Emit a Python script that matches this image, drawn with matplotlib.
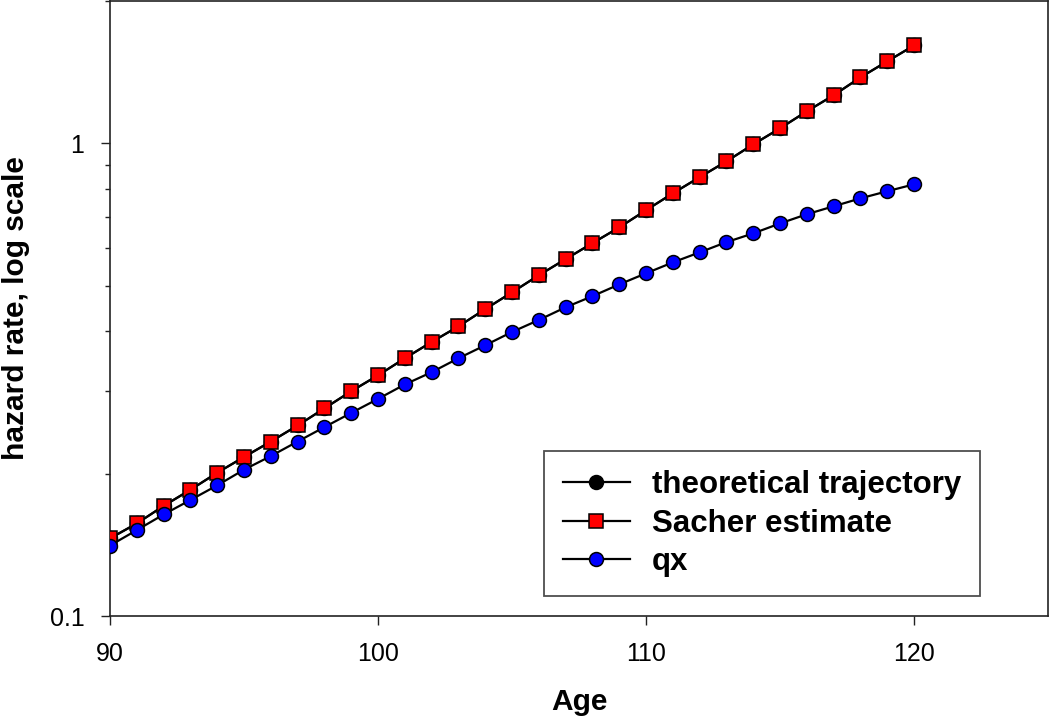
import numpy as np
import matplotlib
matplotlib.use("Agg")
import matplotlib.pyplot as plt
from matplotlib.ticker import LogLocator, FixedLocator, NullFormatter, FixedFormatter

plt.rcParams['font.family'] = ['Liberation Sans', 'DejaVu Sans']

# ages 90..120
age = [90, 91, 92, 93, 94, 95, 96, 97, 98, 99, 100, 101, 102, 103, 104, 105,
       106, 107, 108, 109, 110, 111, 112, 113, 114, 115, 116, 117, 118, 119, 120]

# Sacher estimate
sacher = [0.146, 0.157, 0.171, 0.185, 0.201, 0.217, 0.234, 0.253, 0.275, 0.299,
          0.323, 0.351, 0.380, 0.410, 0.446, 0.484, 0.526, 0.569, 0.615, 0.664,
          0.722, 0.784, 0.848, 0.916, 0.995, 1.076, 1.169, 1.264, 1.379, 1.491, 1.611]

# theoretical trajectory sits under the Sacher squares
theoretical = [0.146, 0.157, 0.171, 0.185, 0.201, 0.217, 0.234, 0.253, 0.275, 0.299,
               0.323, 0.351, 0.380, 0.410, 0.446, 0.484, 0.526, 0.569, 0.615, 0.664,
               0.722, 0.784, 0.848, 0.916, 0.995, 1.076, 1.169, 1.264, 1.379, 1.491, 1.611]

# qx
qx = [0.141, 0.152, 0.164, 0.176, 0.189, 0.204, 0.218, 0.234, 0.251, 0.269,
      0.288, 0.309, 0.328, 0.351, 0.374, 0.399, 0.423, 0.450, 0.475, 0.503,
      0.531, 0.560, 0.588, 0.618, 0.645, 0.677, 0.708, 0.736, 0.765, 0.792, 0.819]

xticks = [90, 100, 110, 120]

fig = plt.figure(figsize=(10.5, 7.2), dpi=100)
ax = fig.add_axes([0.1048, 0.1444, 0.8933, 0.8541])

ax.plot(age, theoretical, color='black', lw=1.6, marker='o', ms=10,
        mfc='black', mec='black', mew=1.1, label='theoretical trajectory', zorder=2)
ax.plot(age, sacher, color='black', lw=1.6, marker='s', ms=10,
        mfc='#ff0000', mec='black', mew=1.1, label='Sacher estimate', zorder=3)
ax.plot(age, qx, color='black', lw=1.6, marker='o', ms=10,
        mfc='#0000ff', mec='black', mew=1.1, label='qx', zorder=4)

ax.set_yscale('log')
ax.set_xlim(90, 125)
ax.set_ylim(0.1, 2.0)

ax.xaxis.set_major_locator(FixedLocator(xticks))
ax.yaxis.set_major_locator(FixedLocator([0.1, 1]))
ax.yaxis.set_major_formatter(FixedFormatter(['0.1', '1']))
ax.yaxis.set_minor_locator(LogLocator(base=10, subs=np.arange(2, 10)))
ax.yaxis.set_minor_formatter(NullFormatter())

for s in ax.spines.values():
    s.set_linewidth(1.2)
    s.set_color('#222222')

ax.tick_params(axis='both', which='major', length=6.5, width=1.0, pad=12,
               labelsize=18, color='#222222')
ax.tick_params(axis='y', which='minor', length=3.5, width=1.0, color='#222222')

ax.set_xlabel('Age', fontsize=21.5, fontweight='bold', labelpad=16)
ax.set_ylabel('hazard rate, log scale', fontsize=21.5, fontweight='bold', labelpad=14)

leg = ax.legend(loc='upper left', bbox_to_anchor=(544 / 1050, 1 - 451 / 720),
                bbox_transform=fig.transFigure,
                prop={'weight': 'bold', 'size': 22.5}, frameon=True, fancybox=False,
                handlelength=2.15, handletextpad=0.7, labelspacing=0.28,
                borderpad=0.6, borderaxespad=0)
leg.get_frame().set_edgecolor('#222222')
leg.get_frame().set_linewidth(1.3)

fig.savefig('out.png', dpi=100)
